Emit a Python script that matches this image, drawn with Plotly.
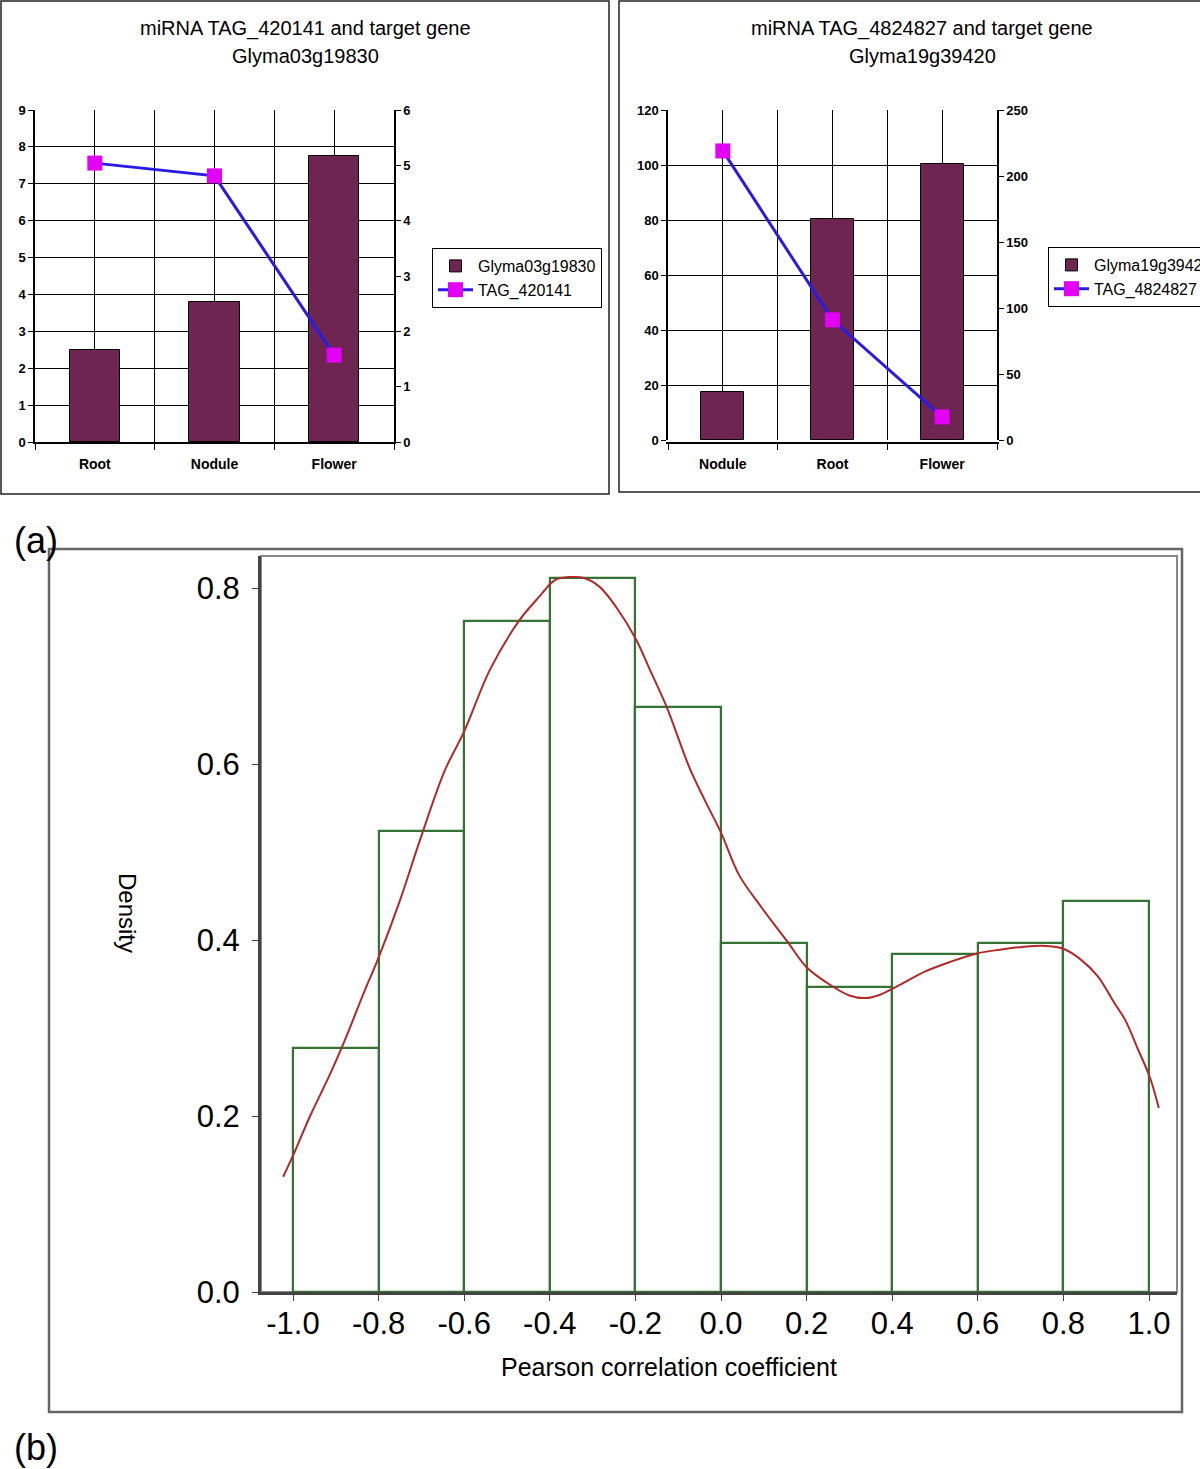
import plotly.graph_objects as go

W, H = 1200, 1469
def px(x): return x / W
def py(y): return 1 - y / H

FONT = "Liberation Sans, Arial, sans-serif"

# ---------------- data ----------------
a1_categories = ["Root", "Nodule", "Flower"]
a1_gene_values = [2.5, 3.8, 7.75]
a1_mirna_values = [5.04, 4.81, 1.57]
a1_gene_name = "Glyma03g19830"
a1_mirna_name = "TAG_420141"
a1_title_lines = ["miRNA TAG_420141 and target gene", "Glyma03g19830"]
a1_left_ticks = [0, 1, 2, 3, 4, 5, 6, 7, 8, 9]
a1_right_ticks = [0, 1, 2, 3, 4, 5, 6]

a2_categories = ["Nodule", "Root", "Flower"]
a2_gene_values = [17.5, 80.5, 100.5]
a2_mirna_values = [219, 91, 17.5]
a2_gene_name = "Glyma19g39420"
a2_mirna_name = "TAG_4824827"
a2_title_lines = ["miRNA TAG_4824827 and target gene", "Glyma19g39420"]
a2_left_ticks = [0, 20, 40, 60, 80, 100, 120]
a2_right_ticks = [0, 50, 100, 150, 200, 250]

hist_bin_edges = [-1.0, -0.8, -0.6, -0.4, -0.2, 0.0, 0.2, 0.4, 0.6, 0.8, 1.0]
hist_density = [0.277, 0.524, 0.7625, 0.811, 0.665, 0.397, 0.347, 0.384, 0.397, 0.444]
kde_x = [-1.023, -1.0, -0.96, -0.914, -0.879, -0.832, -0.8, -0.75, -0.703, -0.645,
         -0.6, -0.54, -0.47, -0.423, -0.388, -0.353, -0.318, -0.283, -0.243, -0.199,
         -0.166, -0.127, -0.073, -0.038, 0.0, 0.042, 0.094, 0.135, 0.157, 0.2, 0.255,
         0.30, 0.338, 0.37, 0.418, 0.476, 0.535, 0.6, 0.652, 0.722, 0.769, 0.8, 0.84,
         0.88, 0.921, 0.944, 0.975, 1.002, 1.023]
kde_y = [0.131, 0.155, 0.20, 0.247, 0.286, 0.343, 0.38, 0.445, 0.514, 0.593,
         0.637, 0.707, 0.764, 0.791, 0.809, 0.8125, 0.811, 0.801, 0.777, 0.742,
         0.707, 0.665, 0.595, 0.559, 0.522, 0.474, 0.4375, 0.411, 0.397, 0.369, 0.349,
         0.337, 0.334, 0.3375, 0.349, 0.364, 0.375, 0.385, 0.389, 0.393, 0.393, 0.39, 0.378,
         0.359, 0.327, 0.3095, 0.275, 0.244, 0.209]
hist_x_ticks = [-1.0, -0.8, -0.6, -0.4, -0.2, 0.0, 0.2, 0.4, 0.6, 0.8, 1.0]
hist_y_ticks = [0.0, 0.2, 0.4, 0.6, 0.8]

# ---------------- style ----------------
BAR_COLOR = "#6E2551"
LINE_COLOR = "#2A1AE6"
MARKER_COLOR = "#E400F6"
HIST_COLOR = "#357335"
KDE_COLOR = "#B02A2A"

fig = go.Figure()

# panel a1
a1_pos = list(range(len(a1_categories)))
fig.add_trace(go.Bar(x=a1_pos, y=a1_gene_values, name=a1_gene_name, width=0.42,
                     marker=dict(color=BAR_COLOR, line=dict(color="black", width=1)),
                     xaxis="x", yaxis="y", legend="legend"))
fig.add_trace(go.Scatter(x=a1_pos, y=a1_mirna_values, name=a1_mirna_name, mode="lines+markers",
                         line=dict(color=LINE_COLOR, width=3),
                         marker=dict(symbol="square", size=15, color=MARKER_COLOR),
                         xaxis="x", yaxis="y2", legend="legend"))

# panel a2
a2_pos = list(range(len(a2_categories)))
fig.add_trace(go.Bar(x=a2_pos, y=a2_gene_values, name=a2_gene_name, width=0.39,
                     marker=dict(color=BAR_COLOR, line=dict(color="black", width=1)),
                     xaxis="x2", yaxis="y3", legend="legend2"))
fig.add_trace(go.Scatter(x=a2_pos, y=a2_mirna_values, name=a2_mirna_name, mode="lines+markers",
                         line=dict(color=LINE_COLOR, width=3),
                         marker=dict(symbol="square", size=15, color=MARKER_COLOR),
                         xaxis="x2", yaxis="y4", legend="legend2"))

# panel b
bin_centers = [(hist_bin_edges[i] + hist_bin_edges[i + 1]) / 2 for i in range(len(hist_density))]
bin_widths = [hist_bin_edges[i + 1] - hist_bin_edges[i] for i in range(len(hist_density))]
fig.add_trace(go.Bar(x=bin_centers, y=hist_density, width=bin_widths,
                     marker=dict(color="rgba(255,255,255,0)", line=dict(color=HIST_COLOR, width=2.2)),
                     xaxis="x3", yaxis="y5", showlegend=False))
fig.add_trace(go.Scatter(x=kde_x, y=kde_y, mode="lines", line=dict(color=KDE_COLOR, width=2, shape="spline"),
                         xaxis="x3", yaxis="y5", showlegend=False))

tick_bold = dict(family=FONT, size=14, color="black", weight="bold")

def cat_xaxis(domain, cats):
    return dict(domain=domain, range=[-0.5, len(cats) - 0.5], tickmode="array",
                tickvals=list(range(len(cats))), ticktext=cats, ticks="",
                showgrid=True, gridcolor="black", gridwidth=1,
                minor=dict(tickmode="array", tickvals=[i - 0.5 for i in range(len(cats) + 1)],
                           ticks="outside", ticklen=6, tickcolor="black", showgrid=True,
                           gridcolor="black", gridwidth=1),
                showline=True, linecolor="black", linewidth=1.5, zeroline=False,
                tickfont=tick_bold, ticklabelstandoff=8, fixedrange=True)

def left_yaxis(domain, anchor, ticks):
    return dict(domain=domain, anchor=anchor, range=[ticks[0], ticks[-1]], tickmode="array",
                tickvals=ticks, ticks="outside", ticklen=5, tickcolor="black",
                showgrid=True, gridcolor="black", gridwidth=1,
                showline=True, linecolor="black", linewidth=1.5, zeroline=False,
                tickfont=dict(family=FONT, size=13, color="black", weight="bold"))

def right_yaxis(overlay, anchor, ticks):
    return dict(overlaying=overlay, anchor=anchor, side="right", range=[ticks[0], ticks[-1]],
                tickmode="array", tickvals=ticks, ticks="outside", ticklen=5, tickcolor="black",
                showgrid=False, showline=True, linecolor="black", linewidth=1.5, zeroline=False,
                tickfont=dict(family=FONT, size=13, color="black", weight="bold"))

legend_style = dict(xanchor="left", yanchor="top", bordercolor="black", borderwidth=1,
                    bgcolor="white", font=dict(family=FONT, size=16, color="black"),
                    traceorder="normal", tracegroupgap=0, itemwidth=35)

def ann(x, y, text, size, **kw):
    d = dict(x=px(x), y=py(y), xref="paper", yref="paper", text=text, showarrow=False,
             font=dict(family=FONT, size=size, color="black"), xanchor="center", yanchor="middle")
    d.update(kw)
    return d

annotations = []
for i, line in enumerate(a1_title_lines):
    annotations.append(ann(305, 28 + 28 * i, line, 20))
for i, line in enumerate(a2_title_lines):
    annotations.append(ann(922, 28 + 28 * i, line, 20))
annotations += [
    ann(128, 913, "Density", 24, textangle=90),
    ann(669, 1367, "Pearson correlation coefficient", 25),
    ann(36, 540, "(a)", 36),
    ann(36, 1447, "(b)", 36),
]

shapes = [
    dict(type="rect", xref="paper", yref="paper", x0=px(1), x1=px(609), y0=py(494), y1=py(1),
         line=dict(color="#222", width=1.5)),
    dict(type="rect", xref="paper", yref="paper", x0=px(619), x1=px(1203), y0=py(492), y1=py(1),
         line=dict(color="#222", width=1.5)),
    dict(type="rect", xref="paper", yref="paper", x0=px(49), x1=px(1182), y0=py(1412), y1=py(549),
         line=dict(color="#666", width=2.5)),
    dict(type="rect", xref="paper", yref="paper", x0=px(261), x1=px(1177), y0=py(1292), y1=py(556),
         line=dict(color="#888", width=2), layer="below"),
]

x_unit = 428.0  # px per unit on panel b
fig.update_layout(
    width=W, height=H,
    margin=dict(l=0, r=0, t=0, b=0, autoexpand=False),
    paper_bgcolor="white", plot_bgcolor="white",
    font=dict(family=FONT, color="black"),
    xaxis=cat_xaxis([px(35), px(394)], a1_categories),
    yaxis=left_yaxis([py(442), py(110)], "x", a1_left_ticks),
    yaxis2=right_yaxis("y", "x", a1_right_ticks),
    xaxis2=cat_xaxis([px(668), px(997)], a2_categories),
    yaxis3=left_yaxis([py(440), py(110)], "x2", a2_left_ticks),
    yaxis4=right_yaxis("y3", "x2", a2_right_ticks),
    xaxis3=dict(domain=[px(261), px(1177)], anchor="y5",
                range=[-1 - (293 - 261) / x_unit, 1 + (1177 - 1149) / x_unit],
                tickmode="array", tickvals=hist_x_ticks, ticktext=[f"{v:.1f}" for v in hist_x_ticks],
                ticks="outside", ticklen=6, tickcolor="#444", showgrid=False,
                showline=True, linecolor="#444", linewidth=3, zeroline=False,
                tickfont=dict(family=FONT, size=31, color="black"), ticklabelstandoff=-4),
    yaxis5=dict(domain=[py(1292), py(556)], anchor="x3",
                range=[0, (1292 - 556) / 880.0],
                tickmode="array", tickvals=hist_y_ticks, ticktext=[f"{v:.1f}" for v in hist_y_ticks],
                ticks="outside", ticklen=6, tickcolor="#444", showgrid=False,
                showline=True, linecolor="#444", linewidth=3, zeroline=False,
                tickfont=dict(family=FONT, size=31, color="black"), ticklabelstandoff=6),
    legend=dict(x=px(432), y=py(248), **legend_style),
    legend2=dict(x=px(1048), y=py(247), **legend_style),
    annotations=annotations,
    shapes=shapes,
    bargap=0,
)

fig.write_html("out.html", config={"displayModeBar": False},
               post_script="document.body.style.margin='0px';document.body.style.overflow='hidden';")
